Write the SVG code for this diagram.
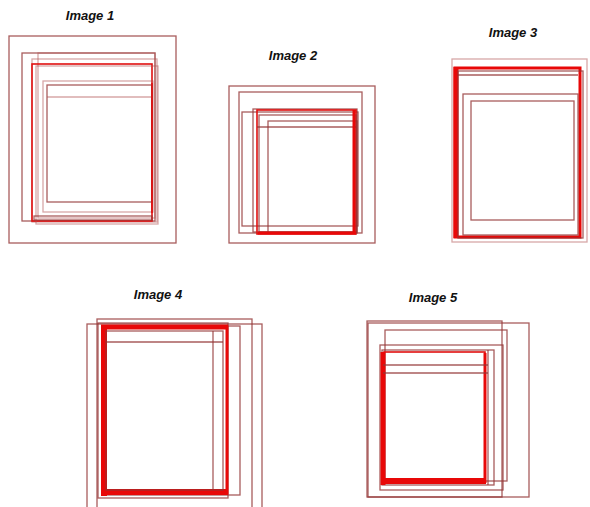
<svg xmlns="http://www.w3.org/2000/svg" width="590" height="507" viewBox="0 0 590 507">
<style>
.t{font-family:"Liberation Sans",Arial,sans-serif;font-weight:bold;font-style:italic;font-size:13px;fill:#111;text-anchor:middle}
.d{fill:none;stroke:#943434;stroke-opacity:0.8;stroke-width:1.3}
.l{fill:none;stroke:#b05050;stroke-opacity:0.5;stroke-width:1.3}
.r{fill:none;stroke:#e01010;stroke-width:1.6}
.R{fill:none;stroke:#e80808;stroke-width:3}
.R5{fill:none;stroke:#e80808;stroke-width:5}
.R6{fill:none;stroke:#e80808;stroke-width:6}
</style>
<rect width="590" height="507" fill="#fff"/>
<g id="image1">
<text class="t" x="90" y="20">Image 1</text>
<rect class="d" x="9" y="36" width="167" height="207"/>
<rect class="d" x="22" y="53" width="133" height="168"/>
<rect class="l" x="38" y="53" width="117" height="165"/>
<rect class="l" x="32" y="59" width="125" height="163"/>
<rect class="r" x="32" y="64" width="120" height="157"/>
<rect class="l" x="36" y="66" width="122" height="158"/>
<rect class="d" x="34" y="216" width="118" height="4"/>
<rect class="l" x="43" y="81" width="110" height="131"/>
<rect class="d" x="47" y="85" width="105" height="117"/>
<line class="l" x1="47" y1="97" x2="152" y2="97"/>
<line class="r" x1="152" y1="83" x2="152" y2="213"/>
</g>
<g id="image2">
<text class="t" x="293" y="60">Image 2</text>
<rect class="d" x="229" y="86" width="146" height="157"/>
<rect class="d" x="239" y="92" width="123" height="141"/>
<rect class="d" x="242" y="112" width="116" height="114"/>
<rect class="d" x="253" y="109" width="104" height="123"/>
<rect class="r" x="257" y="110" width="99" height="124"/>
<rect class="d" x="259" y="115" width="97" height="117"/>
<rect class="d" x="268" y="121" width="89" height="112"/>
<line class="d" x1="257" y1="127" x2="356" y2="127"/>
<line class="R" x1="258" y1="233" x2="356" y2="233"/>
<line class="R" x1="354" y1="110" x2="354" y2="234"/>
</g>
<g id="image3">
<text class="t" x="513" y="37">Image 3</text>
<rect class="l" x="452" y="59" width="135" height="183"/>
<rect class="R" x="455" y="68" width="125" height="169"/>
<line class="R5" x1="456" y1="67" x2="456" y2="238"/>
<rect class="d" x="458" y="71" width="125" height="167"/>
<line class="d" x1="458" y1="75" x2="578" y2="75"/>
<rect class="d" x="463" y="94" width="115" height="141"/>
<rect class="d" x="471" y="101" width="103" height="119"/>
</g>
<g id="image4">
<text class="t" x="158" y="299">Image 4</text>
<rect class="d" x="87" y="324" width="175" height="200"/>
<rect class="d" x="97" y="319" width="155" height="200"/>
<rect class="d" x="98" y="323" width="130" height="175"/>
<rect class="d" x="102" y="326" width="138" height="169"/>
<rect class="R" x="103" y="327" width="124" height="166"/>
<line class="R6" x1="104" y1="326" x2="104" y2="496"/>
<line class="R6" x1="101" y1="492" x2="228" y2="492"/>
<line class="R5" x1="101" y1="327" x2="228" y2="327"/>
<rect class="d" x="106" y="331" width="117" height="159"/>
<line class="d" x1="106" y1="342" x2="223" y2="342"/>
<line class="d" x1="213" y1="331" x2="213" y2="490"/>
</g>
<g id="image5">
<text class="t" x="433" y="302">Image 5</text>
<rect class="d" x="367" y="321" width="135" height="176"/>
<rect class="d" x="368" y="323" width="161" height="174"/>
<rect class="d" x="385" y="330" width="122" height="151"/>
<rect class="d" x="380" y="345" width="123" height="145"/>
<rect class="d" x="382" y="350" width="112" height="135"/>
<rect class="r" x="384" y="352" width="101" height="130"/>
<line class="R5" x1="383" y1="352" x2="383" y2="485"/>
<line class="R6" x1="381" y1="481" x2="486" y2="481"/>
<line class="R" x1="485" y1="353" x2="485" y2="483"/>
<line class="d" x1="383" y1="365" x2="488" y2="365"/>
<line class="d" x1="383" y1="373" x2="488" y2="373"/>
<line class="d" x1="488" y1="350" x2="488" y2="485"/>
</g>
</svg>
